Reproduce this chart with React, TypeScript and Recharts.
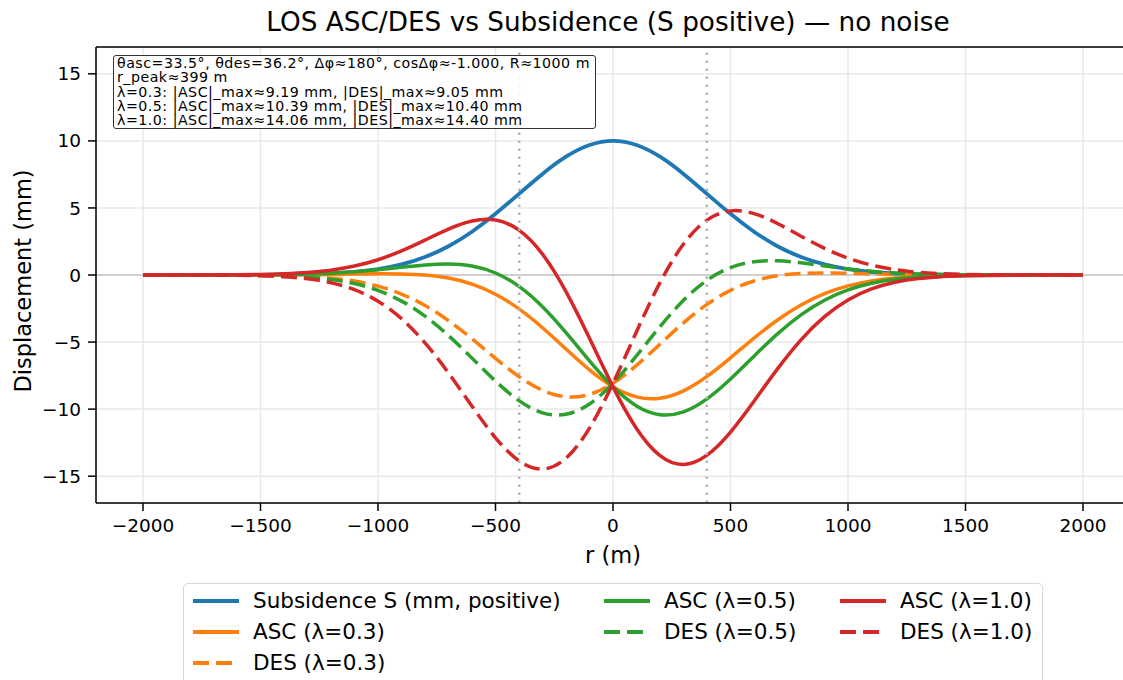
import React from 'react';
import { LineChart, Line, XAxis, YAxis, CartesianGrid, ReferenceLine } from 'recharts';

// radial distance r (m)
const rValues = [
  -2000, -1750, -1500, -1400, -1300, -1200, -1100, -1000, -900, -800, -700, -600, -500, -400, -300, -200, -100,
  0,
  100, 200, 300, 400, 500, 600, 700, 800, 900, 1000, 1100, 1200, 1300, 1400, 1500, 1750, 2000,
];

// subsidence S (mm, positive)
const subsidence = [
  0, 0, 0.009, 0.021, 0.05, 0.109, 0.224, 0.433, 0.786, 1.34, 2.146, 3.228, 4.561, 6.05, 7.538, 8.819, 9.691,
  10.0,
  9.691, 8.819, 7.538, 6.05, 4.561, 3.228, 2.146, 1.34, 0.786, 0.433, 0.224, 0.109, 0.05, 0.021, 0.009, 0, 0,
];

// LOS values (mm)
const asc03 = [
  0, 0, 0.006, 0.013, 0.026, 0.045, 0.069, 0.089, 0.08, -0.002, -0.228, -0.677, -1.431, -2.528, -3.934, -5.519, -7.073,
  -8.339,
  -9.089, -9.189, -8.638, -7.562, -6.175, -4.707, -3.352, -2.232, -1.39, -0.811, -0.443, -0.227, -0.108, -0.049, -0.02, -0.001, 0,
];
const des03 = [
  0, 0, -0.021, -0.05, -0.112, -0.233, -0.454, -0.83, -1.421, -2.274, -3.404, -4.761, -6.218, -7.575, -8.6, -9.08, -8.899,
  -8.07,
  -6.741, -5.154, -3.566, -2.189, -1.142, -0.449, -0.06, 0.112, 0.153, 0.132, 0.094, 0.057, 0.032, 0.016, 0.007, 0, 0,
];
const asc05 = [
  0, 0, 0.015, 0.034, 0.071, 0.135, 0.239, 0.389, 0.571, 0.741, 0.814, 0.666, 0.15, -0.85, -2.366, -4.296, -6.401,
  -8.339,
  -9.761, -10.412, -10.206, -9.24, -7.756, -6.05, -4.394, -2.975, -1.881, -1.111, -0.613, -0.317, -0.153, -0.07, -0.029, -0.002, 0,
];
const des05 = [
  0, -0.001, -0.031, -0.072, -0.16, -0.33, -0.636, -1.151, -1.946, -3.069, -4.519, -6.198, -7.91, -9.371, -10.278, -10.389, -9.618,
  -8.07,
  -6.022, -3.845, -1.888, -0.393, 0.55, 0.988, 1.055, 0.907, 0.678, 0.453, 0.276, 0.154, 0.08, 0.038, 0.017, 0.001, 0,
];
const asc10 = [
  0, 0.003, 0.037, 0.085, 0.182, 0.361, 0.666, 1.139, 1.796, 2.599, 3.418, 4.023, 4.103, 3.345, 1.554, -1.239, -4.721,
  -8.339,
  -11.441, -13.469, -14.126, -13.435, -11.709, -9.407, -6.998, -4.833, -3.106, -1.861, -1.04, -0.543, -0.264, -0.121, -0.051, -0.004, 0,
];
const des10 = [
  0, -0.004, -0.054, -0.127, -0.279, -0.572, -1.093, -1.954, -3.257, -5.057, -7.305, -9.791, -12.139, -13.86, -14.472, -13.661, -11.415,
  -8.07,
  -4.225, -0.573, 2.306, 4.096, 4.779, 4.581, 3.841, 2.895, 1.989, 1.256, 0.733, 0.396, 0.199, 0.093, 0.04, 0.003, 0,
];

const xTicks = [-2000, -1500, -1000, -500, 0, 500, 1000, 1500, 2000];
const yTicks = [-15, -10, -5, 0, 5, 10, 15];
const rPeak = 399;

const infoLines = [
  'θasc=33.5°, θdes=36.2°, Δφ≈180°, cosΔφ≈-1.000, R≈1000 m',
  'r_peak≈399 m',
  'λ=0.3: |ASC|_max≈9.19 mm, |DES|_max≈9.05 mm',
  'λ=0.5: |ASC|_max≈10.39 mm, |DES|_max≈10.40 mm',
  'λ=1.0: |ASC|_max≈14.06 mm, |DES|_max≈14.40 mm',
];

const BLUE = '#1f77b4';
const ORANGE = '#ff7f0e';
const GREEN = '#2ca02c';
const RED = '#d62728';
const DASH = '16 7';

const data = rValues.map((r, i) => ({
  r,
  s: subsidence[i],
  asc03: asc03[i],
  des03: des03[i],
  asc05: asc05[i],
  des05: des05[i],
  asc10: asc10[i],
  des10: des10[i],
}));

const legendItems = [
  { label: 'Subsidence S (mm, positive)', color: BLUE, dashed: false, x: 192, y: 601 },
  { label: 'ASC (λ=0.3)', color: ORANGE, dashed: false, x: 192, y: 632 },
  { label: 'DES (λ=0.3)', color: ORANGE, dashed: true, x: 192, y: 663 },
  { label: 'ASC (λ=0.5)', color: GREEN, dashed: false, x: 603, y: 601 },
  { label: 'DES (λ=0.5)', color: GREEN, dashed: true, x: 603, y: 632 },
  { label: 'ASC (λ=1.0)', color: RED, dashed: false, x: 839, y: 601 },
  { label: 'DES (λ=1.0)', color: RED, dashed: true, x: 839, y: 632 },
];

const fmtMinus = (v: number) => (v < 0 ? `\u2212${Math.abs(v)}` : `${v}`);

const App: React.FC = () => {
  return (
    <div
      style={{
        position: 'fixed',
        left: 0,
        top: 0,
        width: 1123,
        height: 680,
        overflow: 'hidden',
        background: '#fff',
        fontFamily: '"DejaVu Sans", sans-serif',
        color: '#000',
      }}
    >
      <style>{'html, body { overflow: hidden; margin: 0; }'}</style>

      {/* title */}
      <div
        style={{
          position: 'absolute',
          left: 608,
          top: 7,
          transform: 'translateX(-50%)',
          fontSize: 26.3,
          lineHeight: '30px',
          whiteSpace: 'nowrap',
        }}
      >
        LOS ASC/DES vs Subsidence (S positive) — no noise
      </div>

      <div style={{ position: 'absolute', left: 0, top: 0 }}>
        {/* plot area runs 96..1130 px, so its right side is cut by the page edge like the reference */}
        <LineChart
          width={1123}
          height={680}
          data={data}
          margin={{ top: 47, right: -7, left: 36, bottom: 137 }}
        >
          <CartesianGrid stroke="#e8e8e8" strokeWidth={1.5} />
          <XAxis
            dataKey="r"
            type="number"
            domain={[-2200, 2200]}
            ticks={xTicks}
            height={40}
            tickSize={8}
            tickMargin={8}
            tick={{ fill: '#000', fontSize: 18.5 }}
            tickFormatter={fmtMinus}
            axisLine={{ stroke: '#000', strokeWidth: 1.5 }}
            tickLine={{ stroke: '#000', strokeWidth: 1.5 }}
            allowDataOverflow
          />
          <YAxis
            type="number"
            domain={[-17, 17]}
            ticks={yTicks}
            width={60}
            tickSize={8}
            tickMargin={7}
            tick={{ fill: '#000', fontSize: 18.5 }}
            tickFormatter={fmtMinus}
            axisLine={{ stroke: '#000', strokeWidth: 1.5 }}
            tickLine={{ stroke: '#000', strokeWidth: 1.5 }}
            allowDataOverflow
          />
          <ReferenceLine y={17} stroke="#000" strokeWidth={1.5} />
          <ReferenceLine y={0} stroke="#d0d0d0" strokeWidth={2} />

          <Line type="natural" dataKey="s" stroke={BLUE} strokeWidth={3.8} dot={false} isAnimationActive={false} />
          <Line type="natural" dataKey="asc03" stroke={ORANGE} strokeWidth={3.5} dot={false} isAnimationActive={false} />
          <Line type="natural" dataKey="des03" stroke={ORANGE} strokeWidth={3.5} strokeDasharray={DASH} dot={false} isAnimationActive={false} />
          <Line type="natural" dataKey="asc05" stroke={GREEN} strokeWidth={3.5} dot={false} isAnimationActive={false} />
          <Line type="natural" dataKey="des05" stroke={GREEN} strokeWidth={3.5} strokeDasharray={DASH} dot={false} isAnimationActive={false} />
          <Line type="natural" dataKey="asc10" stroke={RED} strokeWidth={3.5} dot={false} isAnimationActive={false} />
          <Line type="natural" dataKey="des10" stroke={RED} strokeWidth={3.5} strokeDasharray={DASH} dot={false} isAnimationActive={false} />

          <ReferenceLine x={-rPeak} stroke="#b5b5b5" strokeWidth={2.5} strokeDasharray="2.5 5.5" />
          <ReferenceLine x={rPeak} stroke="#b5b5b5" strokeWidth={2.5} strokeDasharray="2.5 5.5" />
        </LineChart>
      </div>

      {/* parameter box */}
      <div
        style={{
          position: 'absolute',
          left: 113,
          top: 55,
          width: 478,
          height: 72,
          border: '1px solid #333',
          borderRadius: 3,
          background: 'rgba(255,255,255,0.85)',
          fontSize: 14.2,
          lineHeight: '14.3px',
          letterSpacing: 0.5,
          padding: '0 0 0 3px',
          whiteSpace: 'nowrap',
        }}
      >
        {infoLines.map((t) => (
          <div key={t}>{t}</div>
        ))}
      </div>

      {/* y label */}
      <div
        style={{
          position: 'absolute',
          left: 23,
          top: 281,
          transform: 'translate(-50%, -50%) rotate(-90deg)',
          fontSize: 22.5,
          lineHeight: 1,
          whiteSpace: 'nowrap',
        }}
      >
        Displacement (mm)
      </div>

      {/* x label */}
      <div
        style={{
          position: 'absolute',
          left: 613,
          top: 555,
          transform: 'translate(-50%, -50%)',
          fontSize: 22.5,
          lineHeight: 1,
          whiteSpace: 'nowrap',
        }}
      >
        r (m)
      </div>

      {/* legend */}
      <div
        style={{
          position: 'absolute',
          left: 183,
          top: 583,
          width: 858,
          height: 120,
          border: '1.5px solid #d6d6d6',
          borderRadius: 5,
          background: 'rgba(255,255,255,0.8)',
        }}
      />
      {legendItems.map((it) => (
        <div key={it.label}>
          <svg
            width={48}
            height={10}
            style={{ position: 'absolute', left: it.x, top: it.y - 5 }}
          >
            <line
              x1={1}
              y1={5}
              x2={47}
              y2={5}
              stroke={it.color}
              strokeWidth={3.8}
              strokeDasharray={it.dashed ? DASH : undefined}
            />
          </svg>
          <div
            style={{
              position: 'absolute',
              left: it.x + 61,
              top: it.y,
              transform: 'translateY(-50%)',
              fontSize: 21.5,
              lineHeight: 1,
              whiteSpace: 'nowrap',
            }}
          >
            {it.label}
          </div>
        </div>
      ))}
    </div>
  );
};

export default App;
